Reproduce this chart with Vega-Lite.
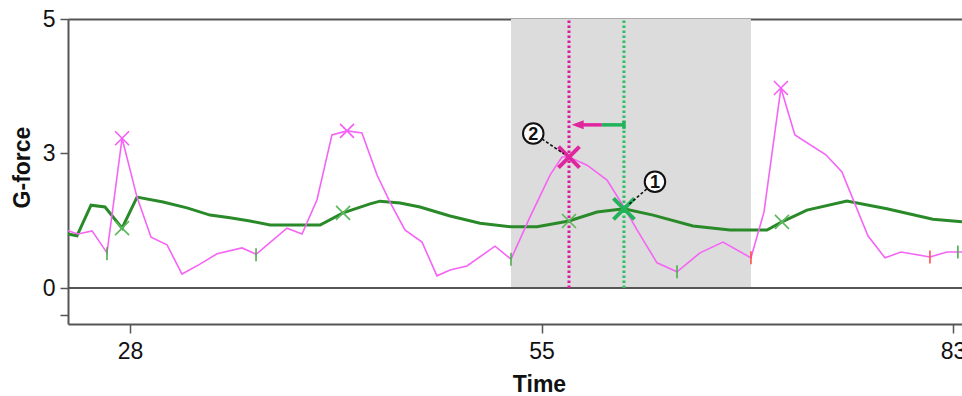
{
  "$schema": "https://vega.github.io/schema/vega-lite/v6.json",
  "width": 894,
  "height": 305,
  "autosize": {"type": "none"},
  "padding": {"left": 68, "top": 19, "right": 0, "bottom": 72},
  "background": "white",
  "view": {"stroke": null},
  "config": {
    "font": "Liberation Sans",
    "axis": {
      "labelFont": "Liberation Sans",
      "labelFontSize": 23,
      "labelColor": "#111111",
      "titleFont": "Liberation Sans",
      "titleFontSize": 23,
      "titleFontWeight": "bold",
      "titleColor": "#111111",
      "domainColor": "#555555",
      "domainWidth": 2,
      "tickColor": "#555555",
      "tickWidth": 1.5,
      "grid": false
    }
  },
  "datasets": {
    "pink": [
      {"t": 23.93, "g": 1.27}, {"t": 24.59, "g": 1.20}, {"t": 25.51, "g": 1.27}, {"t": 26.49, "g": 0.78},
      {"t": 27.48, "g": 3.22}, {"t": 28.46, "g": 2.02}, {"t": 29.38, "g": 1.13}, {"t": 30.43, "g": 0.96},
      {"t": 31.41, "g": 0.31}, {"t": 32.59, "g": 0.53}, {"t": 33.71, "g": 0.76}, {"t": 35.35, "g": 0.89},
      {"t": 36.27, "g": 0.75}, {"t": 38.30, "g": 1.33}, {"t": 39.29, "g": 1.20}, {"t": 40.27, "g": 1.96},
      {"t": 41.25, "g": 3.27}, {"t": 42.24, "g": 3.33}, {"t": 43.22, "g": 3.30}, {"t": 44.21, "g": 2.51},
      {"t": 45.06, "g": 1.91}, {"t": 46.04, "g": 1.29}, {"t": 47.16, "g": 1.02}, {"t": 48.14, "g": 0.27},
      {"t": 49.00, "g": 0.40}, {"t": 50.11, "g": 0.49}, {"t": 51.95, "g": 0.93}, {"t": 53.00, "g": 0.64},
      {"t": 54.25, "g": 1.58}, {"t": 55.58, "g": 2.51}, {"t": 56.39, "g": 2.91}, {"t": 56.87, "g": 2.91},
      {"t": 58.10, "g": 2.73}, {"t": 59.46, "g": 2.40}, {"t": 60.61, "g": 1.80}, {"t": 61.50, "g": 1.29},
      {"t": 62.86, "g": 0.56}, {"t": 64.22, "g": 0.36}, {"t": 65.78, "g": 0.78}, {"t": 67.35, "g": 1.02},
      {"t": 69.25, "g": 0.67}, {"t": 70.14, "g": 1.69}, {"t": 71.29, "g": 3.97}, {"t": 72.24, "g": 3.27},
      {"t": 74.35, "g": 2.96}, {"t": 75.44, "g": 2.58}, {"t": 77.21, "g": 1.16}, {"t": 78.37, "g": 0.67},
      {"t": 79.46, "g": 0.80}, {"t": 81.43, "g": 0.69}, {"t": 82.59, "g": 0.80}, {"t": 83.61, "g": 0.80}
    ],
    "green": [
      {"t": 23.93, "g": 1.20}, {"t": 24.52, "g": 1.16}, {"t": 25.44, "g": 1.84}, {"t": 26.36, "g": 1.80},
      {"t": 27.48, "g": 1.33}, {"t": 28.46, "g": 2.02}, {"t": 30.17, "g": 1.91}, {"t": 31.74, "g": 1.78},
      {"t": 33.25, "g": 1.62}, {"t": 34.56, "g": 1.56}, {"t": 35.87, "g": 1.49}, {"t": 37.19, "g": 1.40},
      {"t": 40.47, "g": 1.40}, {"t": 41.98, "g": 1.67}, {"t": 43.75, "g": 1.87}, {"t": 44.40, "g": 1.93},
      {"t": 45.72, "g": 1.89}, {"t": 47.03, "g": 1.80}, {"t": 49.00, "g": 1.60}, {"t": 50.97, "g": 1.44},
      {"t": 53.00, "g": 1.36}, {"t": 54.71, "g": 1.36}, {"t": 56.87, "g": 1.49}, {"t": 58.78, "g": 1.69},
      {"t": 60.61, "g": 1.76}, {"t": 62.59, "g": 1.62}, {"t": 65.31, "g": 1.38}, {"t": 67.82, "g": 1.29},
      {"t": 70.34, "g": 1.29}, {"t": 71.36, "g": 1.47}, {"t": 73.06, "g": 1.73}, {"t": 75.78, "g": 1.93},
      {"t": 78.50, "g": 1.76}, {"t": 81.63, "g": 1.53}, {"t": 83.61, "g": 1.47}
    ],
    "marks": [
      {"t": 27.48, "g": 3.22, "kind": "pinkx"},
      {"t": 42.24, "g": 3.33, "kind": "pinkx"},
      {"t": 71.29, "g": 3.97, "kind": "pinkx"},
      {"t": 27.48, "g": 1.33, "kind": "greenx"},
      {"t": 41.98, "g": 1.67, "kind": "greenx"},
      {"t": 56.87, "g": 1.49, "kind": "greenx"},
      {"t": 71.36, "g": 1.47, "kind": "greenx"},
      {"t": 26.49, "g": 0.76, "kind": "gtick"},
      {"t": 36.27, "g": 0.74, "kind": "gtick"},
      {"t": 53.00, "g": 0.64, "kind": "gtick"},
      {"t": 64.22, "g": 0.36, "kind": "gtick"},
      {"t": 83.33, "g": 0.80, "kind": "gtick"},
      {"t": 69.25, "g": 0.67, "kind": "rtick"},
      {"t": 81.43, "g": 0.69, "kind": "rtick"}
    ],
    "big": [
      {"t": 56.87, "g": 2.91, "kind": "bigpink"},
      {"t": 60.61, "g": 1.76, "kind": "biggreen"}
    ]
  },
  "encoding": {
    "x": {"field": "t", "type": "quantitative",
          "scale": {"domain": [23.93, 28, 55, 83.61], "range": [0, 62, 473.5, 894], "nice": false, "zero": false},
          "axis": null},
    "y": {"field": "g", "type": "quantitative",
          "scale": {"domain": [-0.8, 0, 3, 5], "range": [305, 269, 134, 0], "nice": false, "zero": false},
          "axis": {"values": [-0.6, 0, 3, 5], "format": "d", "labelExpr": "datum.value < 0 ? '' : datum.label",
                   "tickSize": 8, "labelPadding": 5, "title": "G-force", "titleX": -46, "titleY": 148,
                   "titleBaseline": "middle", "titleAngle": 270}}
  },
  "layer": [
    {
      "data": {"values": [{"t": 53.0, "t2": 69.25, "g": 0, "g2": 5}]},
      "mark": {"type": "rect", "fill": "#dcdcdc"},
      "encoding": {
        "x": {"field": "t", "type": "quantitative",
              "scale": {"domain": [23.93, 28, 55, 83.61], "range": [0, 62, 473.5, 894], "nice": false, "zero": false},
              "axis": {"orient": "top", "values": [28, 55, 83], "labels": false, "ticks": false, "title": null}},
        "x2": {"field": "t2"},
        "y2": {"field": "g2"}
      }
    },
    {
      "data": {"values": [{"t": 28}, {"t": 55}, {"t": 83}]},
      "mark": {"type": "rule", "color": "#555555", "strokeWidth": 1.5},
      "encoding": {
        "y": {"datum": 5, "type": "quantitative"},
        "y2": {"datum": 4.875}
      }
    },
    {
      "data": {"values": [{"g": 0}]},
      "mark": {"type": "rule", "color": "#555555", "strokeWidth": 2},
      "encoding": {
        "x": null
      }
    },
    {
      "data": {"values": [{"t": 56.87, "g": 0, "g2": 5, "c": "p"}, {"t": 60.61, "g": 0, "g2": 5, "c": "g"}]},
      "mark": {"type": "rule", "strokeWidth": 3, "strokeDash": [2.5, 2.5]},
      "encoding": {
        "y2": {"field": "g2"},
        "color": {"field": "c", "type": "nominal", "scale": {"domain": ["p", "g"], "range": ["#d91aa0", "#2fbf62"]}, "legend": null}
      }
    },
    {
      "data": {"name": "green"},
      "mark": {"type": "line", "color": "#2a8a2a", "strokeWidth": 3}
    },
    {
      "data": {"name": "pink"},
      "mark": {"type": "line", "color": "#f564f5", "strokeWidth": 1.6},
      "encoding": {
        "x": {"field": "t", "type": "quantitative",
              "scale": {"domain": [23.93, 28, 55, 83.61], "range": [0, 62, 473.5, 894], "nice": false, "zero": false},
              "axis": {"orient": "bottom", "values": [28, 55, 83], "format": "d", "tickSize": 9, "labelPadding": 7,
                       "title": "Time", "titleX": 471, "titleY": 60, "titleBaseline": "middle"}}
      }
    },
    {
      "data": {"name": "marks"},
      "transform": [{"filter": "datum.kind === 'pinkx' || datum.kind === 'greenx'"}],
      "mark": {"type": "point", "shape": "M-1,-1L1,1M-1,1L1,-1", "filled": false, "size": 196, "strokeWidth": 1.6, "opacity": 1},
      "encoding": {
        "color": {"field": "kind", "type": "nominal", "scale": {"domain": ["pinkx", "greenx"], "range": ["#f55cf5", "#5cb85c"]}, "legend": null}
      }
    },
    {
      "data": {"name": "marks"},
      "transform": [{"filter": "datum.kind === 'gtick' || datum.kind === 'rtick'"}],
      "mark": {"type": "point", "shape": "M0,-1L0,1", "filled": false, "size": 169, "strokeWidth": 1.6, "opacity": 1},
      "encoding": {
        "color": {"field": "kind", "type": "nominal", "scale": {"domain": ["gtick", "rtick"], "range": ["#4cae4c", "#ff4f4f"]}, "legend": null}
      }
    },
    {
      "data": {"name": "big"},
      "mark": {"type": "point", "shape": "M-1,-1L1,1M-1,1L1,-1", "filled": false, "size": 441, "strokeWidth": 4, "opacity": 1},
      "encoding": {
        "color": {"field": "kind", "type": "nominal", "scale": {"domain": ["bigpink", "biggreen"], "range": ["#e0269f", "#22b35a"]}, "legend": null}
      }
    },
    {
      "data": {"values": [
        {"t": 59.10, "t2": 60.61, "g": 3.42, "g2": 3.42, "c": "g"},
        {"t": 57.40, "t2": 59.10, "g": 3.42, "g2": 3.42, "c": "p"},
        {"t": 60.61, "t2": 60.61, "g": 3.36, "g2": 3.48, "c": "g"}
      ]},
      "mark": {"type": "rule", "strokeWidth": 3.5},
      "encoding": {
        "x2": {"field": "t2"},
        "y2": {"field": "g2"},
        "color": {"field": "c", "type": "nominal", "scale": {"domain": ["p", "g"], "range": ["#e0269f", "#22b35a"]}, "legend": null}
      }
    },
    {
      "data": {"values": [{"t": 57.46, "g": 3.42}]},
      "mark": {"type": "point", "shape": "M-1,0L1,-0.75L1,0.75Z", "filled": true, "size": 144, "color": "#e0269f", "opacity": 1}
    },
    {
      "data": {"values": [
        {"t": 55.03, "t2": 56.53, "g": 3.21, "g2": 2.98},
        {"t": 62.16, "t2": 60.88, "g": 2.20, "g2": 1.84}
      ]},
      "mark": {"type": "rule", "color": "#111111", "strokeWidth": 1.6, "strokeDash": [3, 2]},
      "encoding": {
        "x2": {"field": "t2"},
        "y2": {"field": "g2"}
      }
    },
    {
      "data": {"values": [{"t": 54.46, "g": 3.29, "n": "2"}, {"t": 62.72, "g": 2.36, "n": "1"}]},
      "mark": {"type": "point", "shape": "circle", "filled": false, "size": 420, "stroke": "#111111", "fill": "white", "fillOpacity": 1, "strokeWidth": 2, "opacity": 1}
    },
    {
      "data": {"values": [{"t": 54.46, "g": 3.29, "n": "2"}, {"t": 62.72, "g": 2.36, "n": "1"}]},
      "mark": {"type": "text", "font": "Liberation Sans", "fontSize": 18, "fontWeight": "bold", "color": "#111111", "baseline": "middle", "align": "center", "dy": 1},
      "encoding": {
        "text": {"field": "n"}
      }
    }
  ],
  "resolve": {"axis": {"x": "independent"}, "scale": {"color": "independent"}}
}
